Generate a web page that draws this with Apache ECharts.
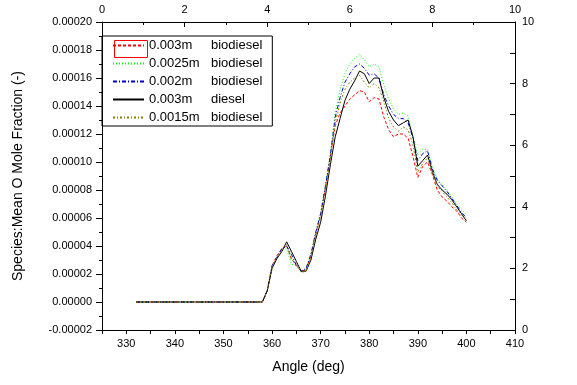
<!DOCTYPE html>
<html>
<head>
<meta charset="utf-8">
<script src="https://cdn.jsdelivr.net/npm/echarts@6/dist/echarts.min.js"></script>
<style>
  html, body { margin: 0; padding: 0; background: #fff; }
  #chart { width: 577px; height: 385px; }
</style>
</head>
<body>
<div id="chart"></div>
<script>
// ---- Data ----
var angles = [332,333,334,335,336,337,338,339,340,341,342,343,344,345,346,347,348,349,350,351,352,353,354,355,356,357,358,
  359,360,361,362,363,364,365,366,367,368,369,370,371,372,373,374,375,376,377,378,379,380,
  381,382,383,384,385,386,387,388,389,390,391,392,393,394,395,396,397,398,399,400];

var bio003 = [0,0,0,0,0,0,0,0,0,0,0,0,0,0,0,0,0,0,0,0,0,0,0,0,0,0,0,
  0.000008,0.000026,0.000033,0.000038,0.000040,0.000031,0.000026,0.000022,0.000023,0.000033,0.000049,0.000062,0.000082,0.000104,0.000126,0.000135,0.000140,0.000145,0.000148,0.000151,0.000150,0.000143,
  0.000146,0.000145,0.000132,0.000123,0.000118,0.000120,0.000120,0.000117,0.000104,0.000089,0.000097,0.000100,0.000091,0.000080,0.000075,0.000072,0.000068,0.000065,0.000060,0.000057];

var bio0025 = [0,0,0,0,0,0,0,0,0,0,0,0,0,0,0,0,0,0,0,0,0,0,0,0,0,0,0,
  0.000008,0.000025,0.000031,0.000037,0.000038,0.000027,0.000026,0.000022,0.000024,0.000035,0.000050,0.000064,0.000084,0.000106,0.000135,0.000152,0.000163,0.000170,0.000174,0.000177,0.000173,0.000168,
  0.000170,0.000168,0.000155,0.000145,0.000138,0.000134,0.000135,0.000133,0.000118,0.000105,0.000109,0.000109,0.000096,0.000088,0.000084,0.000080,0.000075,0.000070,0.000066,0.000062];

var bio002 = [0,0,0,0,0,0,0,0,0,0,0,0,0,0,0,0,0,0,0,0,0,0,0,0,0,0,0,
  0.000008,0.000026,0.000032,0.000038,0.000040,0.000034,0.000026,0.000022,0.000024,0.000034,0.000050,0.000063,0.000083,0.000105,0.000132,0.000146,0.000157,0.000163,0.000168,0.000170,0.000167,0.000162,
  0.000163,0.000160,0.000148,0.000140,0.000134,0.000131,0.000131,0.000128,0.000117,0.000101,0.000106,0.000108,0.000095,0.000087,0.000083,0.000079,0.000074,0.000069,0.000064,0.000060];

var dsl003 = [0,0,0,0,0,0,0,0,0,0,0,0,0,0,0,0,0,0,0,0,0,0,0,0,0,0,0,
  0.000008,0.000024,0.000031,0.000036,0.000043,0.000036,0.000029,0.000022,0.000022,0.000030,0.000045,0.000057,0.000076,0.000098,0.000118,0.000131,0.000144,0.000152,0.000158,0.000165,0.000163,0.000156,
  0.000160,0.000160,0.000146,0.000136,0.000130,0.000126,0.000128,0.000130,0.000118,0.000097,0.000101,0.000105,0.000093,0.000084,0.000080,0.000077,0.000073,0.000068,0.000063,0.000058];

var bio0015 = [0,0,0,0,0,0,0,0,0,0,0,0,0,0,0,0,0,0,0,0,0,0,0,0,0,0,0,
  0.000008,0.000025,0.000032,0.000037,0.000041,0.000030,0.000028,0.000021,0.000022,0.000032,0.000048,0.000061,0.000080,0.000102,0.000128,0.000142,0.000152,0.000157,0.000160,0.000162,0.000157,0.000153,
  0.000156,0.000153,0.000143,0.000131,0.000125,0.000122,0.000125,0.000123,0.000112,0.000093,0.000099,0.000103,0.000092,0.000083,0.000079,0.000075,0.000071,0.000066,0.000062,0.000059];

var sizeLabels = ['0.003m', '0.0025m', '0.002m', '0.003m', '0.0015m'];
var fuelLabels = ['biodiesel', 'biodiesel', 'biodiesel', 'diesel', 'biodiesel'];
var seriesValues = [bio003, bio0025, bio002, dsl003, bio0015];

// ---- Styles ----
var colors = ['#ff0000', '#00ff00', '#0000cc', '#000000', '#808000'];
var dashes = [[3, 2], [1, 2], [4, 2, 1, 2], 'solid', [2, 2, 1, 2]];
var FONT = '"Liberation Sans", Arial, sans-serif';

var series = seriesValues.map(function (vals, i) {
  return {
    name: sizeLabels[i] + ' ' + fuelLabels[i],
    type: 'line',
    xAxisIndex: 0,
    yAxisIndex: 0,
    symbol: 'none',
    data: angles.map(function (a, k) { return [a, vals[k]]; }),
    lineStyle: { color: colors[i], width: 1, type: dashes[i] },
    itemStyle: { color: colors[i], opacity: 0 },
    emphasis: { disabled: true },
    animation: false
  };
});
var seriesNames = series.map(function (s) { return s.name; });

var chart = echarts.init(document.getElementById('chart'), null, { renderer: 'canvas' });
chart.setOption({
  animation: false,
  backgroundColor: '#ffffff',
  grid: { left: 102, right: 62, top: 22, bottom: 55, containLabel: false },
  legend: {
    orient: 'vertical',
    left: 102,
    top: 36,
    padding: [3, 10, 2, 10],
    itemGap: 5,
    itemWidth: 31,
    itemHeight: 14,
    borderColor: '#000',
    borderWidth: 1,
    selectedMode: false,
    data: seriesNames,
    itemStyle: { opacity: 0, color: 'rgba(0,0,0,0)', borderWidth: 0 },
    formatter: function (name) {
      var i = seriesNames.indexOf(name);
      return '{a|' + sizeLabels[i] + '}{b|' + fuelLabels[i] + '}';
    },
    textStyle: {
      fontFamily: FONT,
      fontSize: 13,
      color: '#000',
      rich: {
        a: { width: 62, fontFamily: FONT, fontSize: 13, color: '#000', lineHeight: 18 },
        b: { fontFamily: FONT, fontSize: 13, color: '#000', lineHeight: 18 }
      }
    }
  },
  xAxis: [
    {
      type: 'value',
      position: 'bottom',
      min: 325, max: 410, interval: 5,
      name: 'Angle (deg)',
      nameLocation: 'middle',
      nameGap: 30,
      nameTextStyle: { fontFamily: FONT, fontSize: 14, color: '#000' },
      axisLine: { show: true, onZero: false, lineStyle: { color: '#000', width: 1 } },
      axisTick: { show: true, length: 4, lineStyle: { color: '#000' } },
      axisLabel: {
        margin: 8, fontFamily: FONT, fontSize: 11, color: '#000',
        formatter: function (v) { return Math.round(v) % 10 === 0 ? String(Math.round(v)) : ''; }
      },
      splitLine: { show: false }
    },
    {
      type: 'value',
      position: 'top',
      min: 0, max: 10, interval: 2,
      axisLine: { show: true, onZero: false, lineStyle: { color: '#000', width: 1 } },
      axisTick: { show: true, inside: true, length: 5, lineStyle: { color: '#000' } },
      minorTick: { show: true, splitNumber: 2, length: 3, lineStyle: { color: '#000' } },
      axisLabel: { margin: 7, fontFamily: FONT, fontSize: 11, color: '#000' },
      splitLine: { show: false }
    }
  ],
  yAxis: [
    {
      type: 'value',
      position: 'left',
      min: -0.00002, max: 0.0002, interval: 0.00002,
      name: 'Species:Mean O Mole Fraction (-)',
      nameLocation: 'middle',
      nameGap: 77,
      nameTextStyle: { fontFamily: FONT, fontSize: 14, color: '#000' },
      axisLine: { show: true, onZero: false, lineStyle: { color: '#000', width: 1 } },
      axisTick: { show: true, length: 6, lineStyle: { color: '#000' } },
      minorTick: { show: true, splitNumber: 2, length: 3, lineStyle: { color: '#000' } },
      axisLabel: {
        margin: 10, fontFamily: FONT, fontSize: 11, color: '#000',
        formatter: function (v) { return (Math.round(v * 1e5) / 1e5).toFixed(5); }
      },
      splitLine: { show: false }
    },
    {
      type: 'value',
      position: 'right',
      min: 0, max: 10, interval: 2,
      axisLine: { show: true, onZero: false, lineStyle: { color: '#000', width: 1 } },
      axisTick: { show: true, inside: true, length: 5, lineStyle: { color: '#000' } },
      minorTick: { show: true, splitNumber: 2, length: 5, lineStyle: { color: '#000' } },
      axisLabel: { margin: 7, fontFamily: FONT, fontSize: 11, color: '#000' },
      splitLine: { show: false }
    }
  ],
  graphic: [
    {
      type: 'rect',
      left: 112, top: 38,
      shape: { width: 33, height: 17 },
      style: { fill: 'none', stroke: '#ff0000', lineWidth: 1 },
      silent: true
    }
  ],
  series: series
});
</script>
</body>
</html>
